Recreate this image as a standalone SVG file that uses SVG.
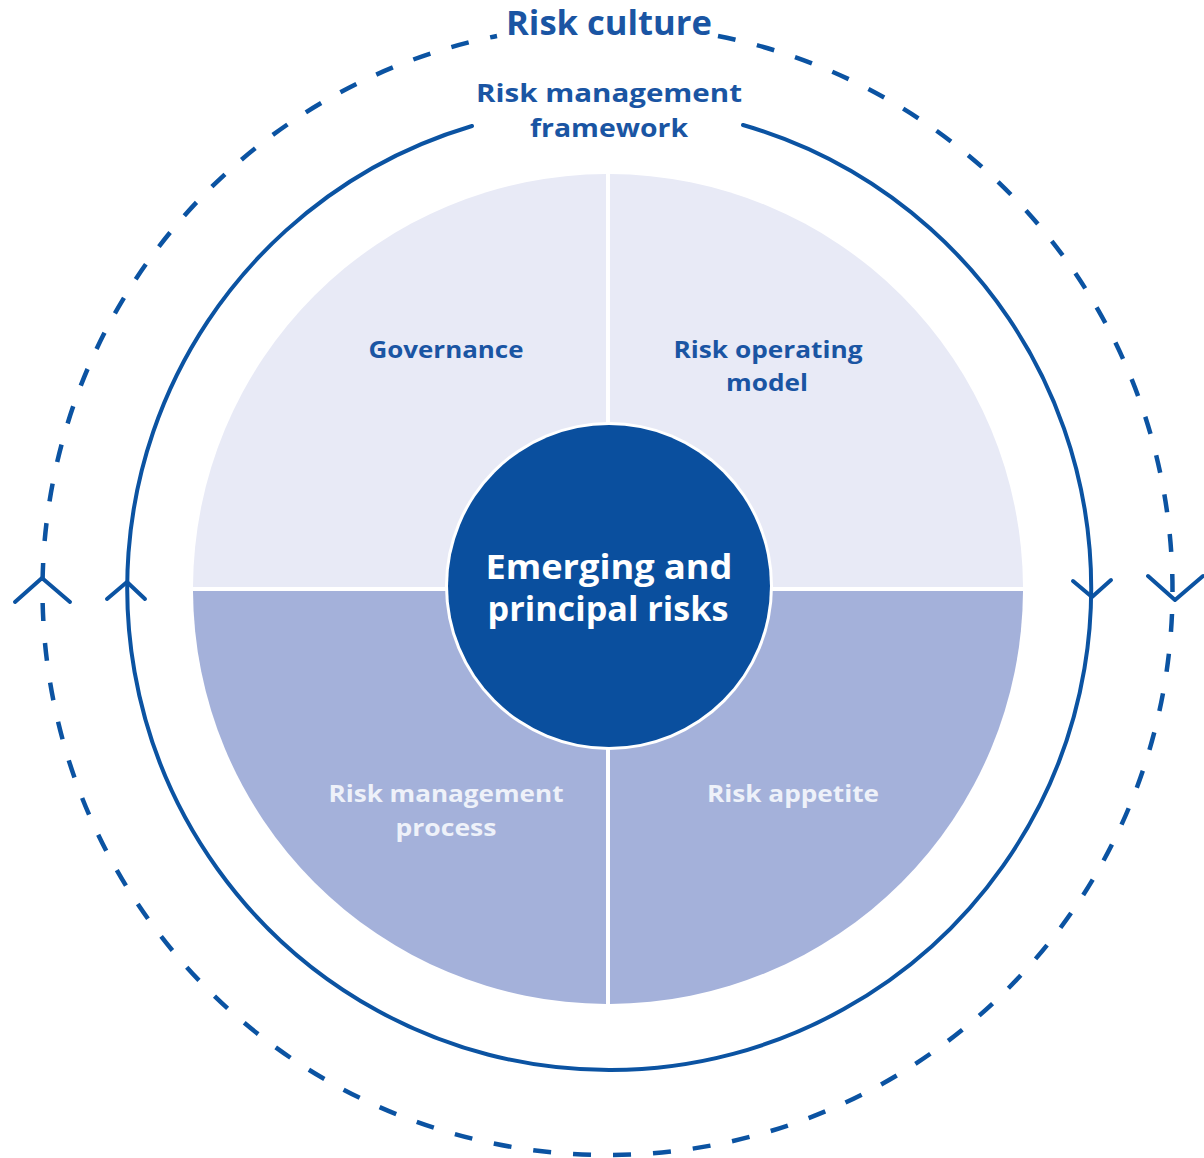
<svg xmlns="http://www.w3.org/2000/svg" width="1204" height="1158" viewBox="0 0 1204 1158">
<style>
.line{fill:none;stroke:#0B53A2;stroke-width:4;stroke-linecap:round;stroke-linejoin:round}
.dash{fill:none;stroke:#0B53A2;stroke-width:4.5;stroke-dasharray:18 22}
.lbl{font-family:"Open Sans","Liberation Sans",sans-serif;font-weight:700;text-anchor:middle}
.dark{fill:#1A55A3}
.light{fill:#EEF1F9}
.q-top{fill:#E8EAF6}
.q-bot{fill:#A4B1DA}
</style>
<rect width="1204" height="1158" fill="#ffffff"/>
<g id="risk-culture">
<path class="dash" d="M 718 36 A 565 565 0 1 1 497 36"/>
<path class="line" d="M 42 578 L 15 602 M 42 578 L 70 602"/>
<path class="line" d="M 1148 576 L 1175 600 L 1203 576"/>
<text class="lbl dark" x="609" y="35" font-size="34" textLength="206" lengthAdjust="spacingAndGlyphs">Risk culture</text>
</g>
<g id="risk-management-framework">
<path class="line" d="M 743 125 A 482 482 0 1 1 472 126"/>
<path class="line" d="M 107 599 L 127 582 L 145 599"/>
<path class="line" d="M 1073 581 L 1092 597 L 1111 580"/>
<text class="lbl dark" x="609" y="102" font-size="25" textLength="266" lengthAdjust="spacingAndGlyphs">Risk management</text>
<text class="lbl dark" x="609" y="137" font-size="25" textLength="158" lengthAdjust="spacingAndGlyphs">framework</text>
</g>
<g id="governance">
<path class="q-top" d="M 606 587 L 193 587 A 415 415 0 0 1 606 174 Z"/>
<text class="lbl dark" x="446" y="358" font-size="23" textLength="155" lengthAdjust="spacingAndGlyphs">Governance</text>
</g>
<g id="risk-operating-model">
<path class="q-top" d="M 610 587 L 610 174 A 415 415 0 0 1 1023 587 Z"/>
<text class="lbl dark" x="768" y="358" font-size="23" textLength="189" lengthAdjust="spacingAndGlyphs">Risk operating</text>
<text class="lbl dark" x="767" y="391" font-size="23" textLength="82" lengthAdjust="spacingAndGlyphs">model</text>
</g>
<g id="risk-management-process">
<path class="q-bot" d="M 606 591 L 606 1004 A 415 415 0 0 1 193 591 Z"/>
<text class="lbl light" x="446" y="802" font-size="23" textLength="235" lengthAdjust="spacingAndGlyphs">Risk management</text>
<text class="lbl light" x="446" y="836" font-size="23" textLength="101" lengthAdjust="spacingAndGlyphs">process</text>
</g>
<g id="risk-appetite">
<path class="q-bot" d="M 610 591 L 1023 591 A 415 415 0 0 1 610 1004 Z"/>
<text class="lbl light" x="793" y="802" font-size="23" textLength="172" lengthAdjust="spacingAndGlyphs">Risk appetite</text>
</g>
<g id="emerging-principal-risks">
<circle cx="609" cy="586" r="164" fill="#ffffff"/>
<circle cx="609" cy="586" r="161" fill="#0A4F9E"/>
<text class="lbl" fill="#ffffff" x="609" y="579" font-size="34" textLength="247" lengthAdjust="spacingAndGlyphs">Emerging and</text>
<text class="lbl" fill="#ffffff" x="608" y="621" font-size="34" textLength="241" lengthAdjust="spacingAndGlyphs">principal risks</text>
</g>
</svg>
